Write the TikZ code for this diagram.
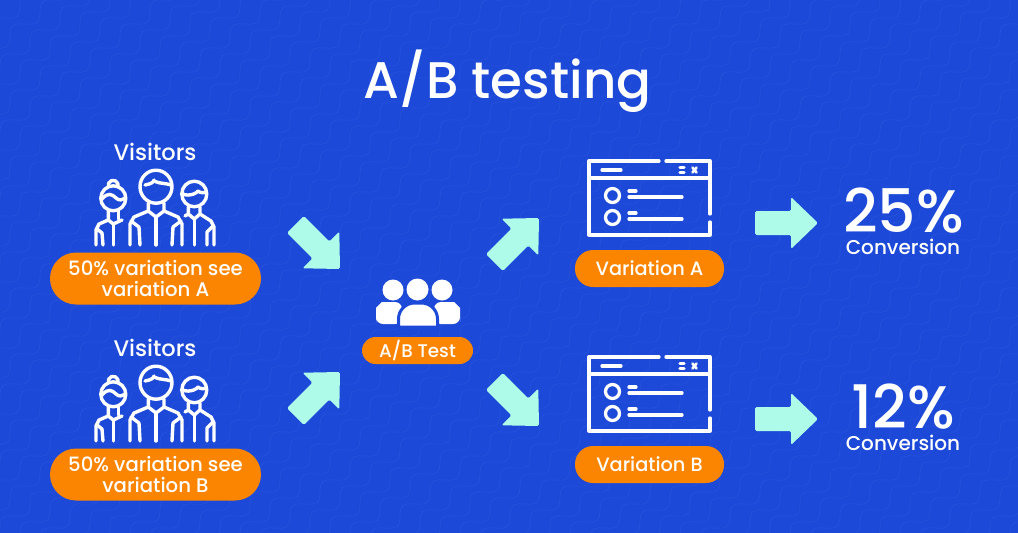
\documentclass[tikz,border=0pt]{standalone}
\usepackage{fontspec}
\setmainfont{Poppins}[UprightFont=* Medium]
\usepackage{tikz}
\usetikzlibrary{shapes}
\definecolor{bgblue}{HTML}{1C49D8}
\definecolor{waveblue}{HTML}{2853DB}
\definecolor{pillorange}{HTML}{FB8500}
\definecolor{arrowmint}{HTML}{AEFBE9}
\tikzset{
  wave/.style={draw=waveblue,line width=.6pt,line join=round},
  icon/.style={draw=white,line width=3.4pt,line cap=round,line join=round},
  frameline/.style={draw=white,line width=3.3pt,line cap=round,line join=round},
  pill/.style={fill=pillorange,text=white,rounded corners=18pt,align=center,inner sep=0pt},
  label/.style={text=white,inner sep=0pt,align=center},
  pics/blockarrow/.style={code={
    \fill[arrowmint,rounded corners=1.5pt] (-63,-12)--(-27,-12)--(-27,-26)--(0,0)--(-27,26)--(-27,12)--(-63,12)--cycle;
  }},
  pics/people/.style={code={
    % woman
    \draw[icon] (113.3,198.3) circle (12.5pt);
    \draw[icon] (108.5,187) arc (200:-20:5pt);
    \draw[icon] (102,199) .. controls (108,192) and (112,194) .. (116,198) .. controls (119,201) and (122,200) .. (125,198);
    \draw[icon] (108.3,211)--(108.3,220)--(113.3,224)--(122,220);
    \draw[icon] (118.3,211)--(118.3,219);
    \draw[icon] (108.3,220)--(99,224)--(96,230)--(96,245);
    \draw[icon] (97,229)--(102,233)--(103,245);
    \draw[icon] (113.3,224)--(113.3,245);
    % man in the middle
    \draw[icon] (156,186.7) ellipse [x radius=16pt,y radius=16.5pt];
    \draw[icon] (145,185) .. controls (151,184) and (154,182) .. (154,180);
    \draw[icon] (154,181) .. controls (160,184) and (166,183) .. (171,185);
    \draw[icon] (148.3,203)--(148.3,211)--(156,217)--(164,211)--(164,203);
    \draw[icon] (148.3,211)--(134,217)--(130,224)--(130,245);
    \draw[icon] (164,211)--(178,217)--(182,224)--(182,245);
    \draw[icon] (131,221)--(139,227)--(140,245);
    \draw[icon] (181,221)--(173,227)--(172,245);
    \draw[icon] (156,217)--(156,245);
    % man on the right
    \draw[icon] (194.3,194) ellipse [x radius=12.5pt,y radius=12.8pt];
    \draw[icon] (183,194) .. controls (190,197) and (197,193) .. (198,191) .. controls (200,193) and (204,193) .. (206,192);
    \draw[icon] (188.3,207)--(188.3,214)--(194.3,219)--(200,214)--(200,207);
    \draw[icon] (188.3,214)--(185,216);
    \draw[icon] (200,214)--(211,221)--(214,227)--(214,245);
    \draw[icon] (213,226)--(207,232)--(207,245);
    \draw[icon] (194.3,219)--(194.3,245);
  }},
  pics/browser/.style={code={
    % frame with its two gaps
    \draw[frameline] (659,161)--(589,161)--(589,235)--(710,235)--(710,222);
    \draw[frameline] (666,161)--(710,161)--(710,214);
    \draw[frameline] (589,178)--(710,178);
    \draw[frameline] (602,170)--(621,170);
    \draw[frameline] (680,167.5)--(684,167.5);
    \draw[frameline] (680,172.5)--(684,172.5);
    \draw[frameline,line width=2.6pt] (692.5,167.5)--(696.5,172.5);
    \draw[frameline,line width=2.6pt] (696.5,167.5)--(692.5,172.5);
    % list rows
    \foreach \rowy in {0,22}{
      \draw[frameline] (612.5,195.5+\rowy) circle (7pt);
      \draw[frameline] (629,191+\rowy)--(636,191+\rowy);
      \draw[frameline] (629,197+\rowy)--(682,197+\rowy);
    }
  }},
}
\begin{document}
\begin{tikzpicture}[x=1pt,y=-1pt]
\path[use as bounding box,fill=bgblue] (0,0) rectangle (1018,533);
\begin{scope}
\clip (0,0) rectangle (1018,533);
\foreach \i in {0,...,62}{
  \draw[wave,shift={(20*\i,6*\i)}] plot[domain=-410:590,samples=400] ({-1.15*\x+4.5*sin(\x*13.8)},{.92*\x+4.5*sin(\x*13.8)});
}
\end{scope}

\node[label,font=\fontsize{51.5}{52}\selectfont] (title) at (507.5,81) {A/B testing};

% visitors on the left
\node[label,font=\fontsize{22.5}{22.5}\selectfont] (visitorsa) at (155,152) {Visitors};
\node[label,font=\fontsize{22.5}{22.5}\selectfont] (visitorsb) at (155,348) {Visitors};
\pic at (0,0) {people};
\pic at (0,196) {people};
\node[pill,minimum width=211pt,minimum height=52pt,rounded corners=26pt,font=\fontsize{19.7}{20.5}\selectfont] (splita) at (155.5,278.5) {50\% variation see\\variation A};
\node[pill,minimum width=211pt,minimum height=52pt,rounded corners=26pt,font=\fontsize{19.7}{20.5}\selectfont] (splitb) at (155.5,474.5) {50\% variation see\\variation B};

% test group in the middle
\fill[white,rounded corners=7pt] (376,324)--(376,315) arc (180:90:13pt)--(402,302)--(402,324)--cycle;
\fill[white,rounded corners=7pt] (434,324)--(434,302)--(447,302) arc (90:0:13pt)--(460,324)--cycle;
\fill[white,draw=bgblue,line width=3pt] (398.5,327)--(398.5,319) arc (180:90:16pt)--(421.5,303) arc (90:0:16pt)--(437.5,327)--cycle;
\fill[white] (393,290) circle (10.5pt);
\fill[white] (442,290) circle (10.5pt);
\fill[white] (417.5,289.5) circle (11pt);
\node[pill,minimum width=111pt,minimum height=27pt,rounded corners=13.5pt,font=\fontsize{18.3}{18.3}\selectfont] (abtest) at (417.5,350.5) {A/B Test};

% block arrows
\pic[rotate=-45] at (340,269) {blockarrow};
\pic[rotate=45] at (340,372) {blockarrow};
\pic[rotate=45] at (539,218) {blockarrow};
\pic[rotate=-45] at (539,426) {blockarrow};
\pic at (818,223) {blockarrow};
\pic at (818,419) {blockarrow};

% the two variations
\pic at (0,0) {browser};
\pic at (0,196) {browser};
\node[pill,minimum width=149pt,minimum height=37pt,font=\fontsize{19.3}{19.3}\selectfont] (varianta) at (649.5,268.5) {Variation A};
\node[pill,minimum width=149pt,minimum height=37pt,font=\fontsize{19.3}{19.3}\selectfont] (variantb) at (649.5,464.5) {Variation B};

% results
\node[label,font=\fontsize{60}{60}\selectfont] (ratea) at (903.5,211) {25\%};
\node[label,font=\fontsize{60}{60}\selectfont] (rateb) at (903.5,407) {12\%};
\node[label,font=\fontsize{20}{20}\selectfont] (conva) at (903,247) {Conversion};
\node[label,font=\fontsize{20}{20}\selectfont] (convb) at (903,443) {Conversion};
\end{tikzpicture}
\end{document}
